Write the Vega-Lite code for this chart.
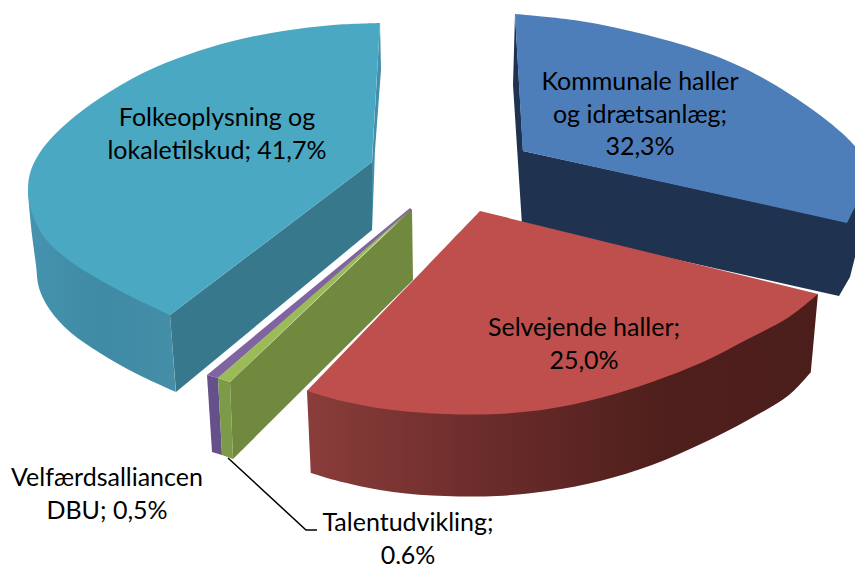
{"$schema":"https://vega.github.io/schema/vega-lite/v6.json","width":855,"height":564,"padding":0,"autosize":"none","background":"white","view":{"stroke":null},"config":{"view":{"stroke":null}},
"datasets":{"outline":[
{"part":"tealSide","seq":1,"px":28,"py":190},{"part":"tealSide","seq":2,"px":29,"py":205},{"part":"tealSide","seq":3,"px":32,"py":235},{"part":"tealSide","seq":4,"px":36,"py":265},{"part":"tealSide","seq":5,"px":39,"py":288},{"part":"tealSide","seq":6,"px":50,"py":310},{"part":"tealSide","seq":7,"px":70,"py":332},{"part":"tealSide","seq":8,"px":100,"py":353},{"part":"tealSide","seq":9,"px":135,"py":373},{"part":"tealSide","seq":10,"px":176,"py":392},{"part":"tealSide","seq":11,"px":176,"py":392},{"part":"tealSide","seq":12,"px":170,"py":315},{"part":"tealSide","seq":13,"px":170,"py":315},
{"part":"tealCut","seq":1,"px":372,"py":162},{"part":"tealCut","seq":2,"px":170,"py":315},{"part":"tealCut","seq":3,"px":176,"py":392},{"part":"tealCut","seq":4,"px":372,"py":230},
{"part":"tealSliver","seq":1,"px":380,"py":23},{"part":"tealSliver","seq":2,"px":381,"py":70},{"part":"tealSliver","seq":3,"px":375,"py":150},{"part":"tealSliver","seq":4,"px":372,"py":232},{"part":"tealSliver","seq":5,"px":372,"py":162},
{"part":"tealTop","seq":1,"px":372,"py":162},{"part":"tealTop","seq":2,"px":372,"py":162},{"part":"tealTop","seq":3,"px":380,"py":23},{"part":"tealTop","seq":4,"px":380,"py":23},{"part":"tealTop","seq":5,"px":333,"py":25},{"part":"tealTop","seq":6,"px":283,"py":31},{"part":"tealTop","seq":7,"px":233,"py":41},{"part":"tealTop","seq":8,"px":187,"py":55},{"part":"tealTop","seq":9,"px":143,"py":73},{"part":"tealTop","seq":10,"px":100,"py":98},{"part":"tealTop","seq":11,"px":67,"py":123},{"part":"tealTop","seq":12,"px":43,"py":148},{"part":"tealTop","seq":13,"px":31,"py":170},{"part":"tealTop","seq":14,"px":28,"py":190},{"part":"tealTop","seq":15,"px":32,"py":213},{"part":"tealTop","seq":16,"px":44,"py":237},{"part":"tealTop","seq":17,"px":67,"py":259},{"part":"tealTop","seq":18,"px":100,"py":280},{"part":"tealTop","seq":19,"px":134,"py":298},{"part":"tealTop","seq":20,"px":170,"py":315},{"part":"tealTop","seq":21,"px":170,"py":315},
{"part":"purpleSide","seq":1,"px":207,"py":375},{"part":"purpleSide","seq":2,"px":218,"py":378},{"part":"purpleSide","seq":3,"px":222,"py":455},{"part":"purpleSide","seq":4,"px":212,"py":452},
{"part":"purpleTop","seq":1,"px":410,"py":208},{"part":"purpleTop","seq":2,"px":207,"py":375},{"part":"purpleTop","seq":3,"px":218,"py":378},{"part":"purpleTop","seq":4,"px":412,"py":210},
{"part":"greenCut","seq":1,"px":230,"py":382},{"part":"greenCut","seq":2,"px":412,"py":209},{"part":"greenCut","seq":3,"px":413,"py":280},{"part":"greenCut","seq":4,"px":233,"py":459},
{"part":"greenFront","seq":1,"px":218,"py":378},{"part":"greenFront","seq":2,"px":230,"py":382},{"part":"greenFront","seq":3,"px":233,"py":459},{"part":"greenFront","seq":4,"px":222,"py":455},
{"part":"greenTop","seq":1,"px":411,"py":209},{"part":"greenTop","seq":2,"px":218,"py":378},{"part":"greenTop","seq":3,"px":230,"py":382},
{"part":"blueSide","seq":1,"px":523,"py":151},{"part":"blueSide","seq":2,"px":515,"py":14},{"part":"blueSide","seq":3,"px":513,"py":85},{"part":"blueSide","seq":4,"px":522,"py":225},{"part":"blueSide","seq":5,"px":839,"py":296},{"part":"blueSide","seq":6,"px":850,"py":277},{"part":"blueSide","seq":7,"px":855,"py":257},{"part":"blueSide","seq":8,"px":855,"py":204},{"part":"blueSide","seq":9,"px":847,"py":222},
{"part":"blueTop","seq":1,"px":523,"py":151},{"part":"blueTop","seq":2,"px":523,"py":151},{"part":"blueTop","seq":3,"px":515,"py":14},{"part":"blueTop","seq":4,"px":515,"py":14},{"part":"blueTop","seq":5,"px":580,"py":21},{"part":"blueTop","seq":6,"px":647,"py":35},{"part":"blueTop","seq":7,"px":713,"py":55},{"part":"blueTop","seq":8,"px":763,"py":78},{"part":"blueTop","seq":9,"px":813,"py":110},{"part":"blueTop","seq":10,"px":842,"py":133},{"part":"blueTop","seq":11,"px":855,"py":146},{"part":"blueTop","seq":12,"px":855,"py":146},{"part":"blueTop","seq":13,"px":855,"py":207},{"part":"blueTop","seq":14,"px":855,"py":207},{"part":"blueTop","seq":15,"px":847,"py":223},{"part":"blueTop","seq":16,"px":847,"py":223},
{"part":"redSide","seq":1,"px":307,"py":391},{"part":"redSide","seq":2,"px":307,"py":391},{"part":"redSide","seq":3,"px":311,"py":473},{"part":"redSide","seq":4,"px":311,"py":473},{"part":"redSide","seq":5,"px":342,"py":482},{"part":"redSide","seq":6,"px":393,"py":492},{"part":"redSide","seq":7,"px":445,"py":496},{"part":"redSide","seq":8,"px":497,"py":496},{"part":"redSide","seq":9,"px":548,"py":491},{"part":"redSide","seq":10,"px":600,"py":481},{"part":"redSide","seq":11,"px":652,"py":465},{"part":"redSide","seq":12,"px":703,"py":443},{"part":"redSide","seq":13,"px":748,"py":420},{"part":"redSide","seq":14,"px":789,"py":395},{"part":"redSide","seq":15,"px":811,"py":372},{"part":"redSide","seq":16,"px":811,"py":372},{"part":"redSide","seq":17,"px":818,"py":294},{"part":"redSide","seq":18,"px":818,"py":294},
{"part":"redTop","seq":1,"px":480,"py":211},{"part":"redTop","seq":2,"px":480,"py":211},{"part":"redTop","seq":3,"px":307,"py":391},{"part":"redTop","seq":4,"px":307,"py":391},{"part":"redTop","seq":5,"px":342,"py":401},{"part":"redTop","seq":6,"px":393,"py":410},{"part":"redTop","seq":7,"px":445,"py":414},{"part":"redTop","seq":8,"px":497,"py":414},{"part":"redTop","seq":9,"px":548,"py":409},{"part":"redTop","seq":10,"px":600,"py":398},{"part":"redTop","seq":11,"px":652,"py":382},{"part":"redTop","seq":12,"px":703,"py":362},{"part":"redTop","seq":13,"px":748,"py":339},{"part":"redTop","seq":14,"px":789,"py":317},{"part":"redTop","seq":15,"px":818,"py":294},{"part":"redTop","seq":16,"px":818,"py":294},
{"part":"leader","seq":1,"px":228,"py":458},{"part":"leader","seq":2,"px":306,"py":530},{"part":"leader","seq":3,"px":317,"py":530}
],"labels":[
{"label":"Folkeoplysning og\nlokaletilskud; 41,7%","share":41.7,"px":217,"py":118},
{"label":"Kommunale haller\nog idrætsanlæg;\n32,3%","share":32.3,"px":640,"py":82},
{"label":"Selvejende haller;\n25,0%","share":25.0,"px":584,"py":328},
{"label":"Velfærdsalliancen\nDBU; 0,5%","share":0.5,"px":107,"py":478},
{"label":"Talentudvikling;\n0,6%","share":0.6,"px":408,"py":523}
]},
"data":{"name":"outline"},
"encoding":{"x":{"field":"px","type":"quantitative","scale":{"domain":[0,855],"nice":false,"zero":false},"axis":null},"y":{"field":"py","type":"quantitative","scale":{"domain":[564,0],"nice":false,"zero":false},"axis":null},"order":{"field":"seq","type":"quantitative"}},
"layer":[
{"transform":[{"filter":"datum.part==='tealSide'"}],"mark":{"type":"line","interpolate":"catmull-rom","strokeWidth":0,"fill":{"gradient":"linear","x1":0,"y1":0,"x2":1,"y2":0,"stops":[{"offset":0,"color":"#4593AF"},{"offset":0.5,"color":"#3F8AA5"},{"offset":1,"color":"#458EA8"}]}}},
{"transform":[{"filter":"datum.part==='tealCut'"}],"mark":{"type":"line","strokeWidth":0,"fill":"#37788D"}},
{"transform":[{"filter":"datum.part==='tealSliver'"}],"mark":{"type":"line","strokeWidth":0,"fill":"#418FAB"}},
{"transform":[{"filter":"datum.part==='tealTop'"}],"mark":{"type":"line","interpolate":"catmull-rom","strokeWidth":0,"fill":"#4BA8C3"}},
{"transform":[{"filter":"datum.part==='purpleSide'"}],"mark":{"type":"line","strokeWidth":0,"fill":"#66508A"}},
{"transform":[{"filter":"datum.part==='purpleTop'"}],"mark":{"type":"line","strokeWidth":0,"fill":"#8064A2"}},
{"transform":[{"filter":"datum.part==='greenCut'"}],"mark":{"type":"line","strokeWidth":0,"fill":"#71893F"}},
{"transform":[{"filter":"datum.part==='greenFront'"}],"mark":{"type":"line","strokeWidth":0,"fill":"#7C9A48"}},
{"transform":[{"filter":"datum.part==='greenTop'"}],"mark":{"type":"line","strokeWidth":0,"fill":"#9BBB59"}},
{"transform":[{"filter":"datum.part==='blueSide'"}],"mark":{"type":"line","strokeWidth":0,"fill":"#1F3350"}},
{"transform":[{"filter":"datum.part==='blueTop'"}],"mark":{"type":"line","interpolate":"catmull-rom","strokeWidth":0,"fill":"#4D7EBA"}},
{"transform":[{"filter":"datum.part==='redSide'"}],"mark":{"type":"line","interpolate":"catmull-rom","strokeWidth":0,"fill":{"gradient":"linear","x1":0,"y1":0,"x2":1,"y2":0,"stops":[{"offset":0,"color":"#8A3D3A"},{"offset":0.35,"color":"#6B2C2B"},{"offset":0.7,"color":"#4E1F1C"},{"offset":1,"color":"#4C1E1B"}]}}},
{"transform":[{"filter":"datum.part==='redTop'"}],"mark":{"type":"line","interpolate":"catmull-rom","strokeWidth":0,"fill":"#BE4F4C"}},
{"transform":[{"filter":"datum.part==='leader'"}],"mark":{"type":"line","stroke":"#000000","strokeWidth":1.5}},
{"data":{"name":"labels"},"mark":{"type":"text","font":"Lato","fontSize":25,"lineBreak":"\n","lineHeight":32.5,"align":"center","baseline":"middle","color":"#000000"},"encoding":{"text":{"field":"label"},"x":{"field":"px","type":"quantitative"},"y":{"field":"py","type":"quantitative"},"order":{"value":null}}}
]}
